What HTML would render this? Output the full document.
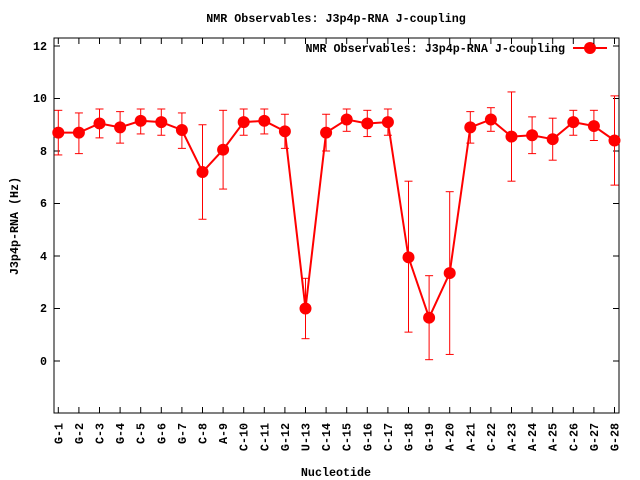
<!DOCTYPE html><html><head><style>body{margin:0;background:#fff}svg{display:block}text{font-family:"Liberation Mono",monospace;font-weight:bold;font-size:11.7px;fill:#000}</style></head><body>
<svg id="s" width="640" height="480" xmlns="http://www.w3.org/2000/svg">
<rect x="54" y="38" width="565" height="375" fill="none" stroke="#000" stroke-width="1"/>
<text x="336" y="22" text-anchor="middle">NMR Observables: J3p4p-RNA J-coupling</text>
<text x="565" y="52" text-anchor="end">NMR Observables: J3p4p-RNA J-coupling</text>
<line x1="573" y1="48" x2="607" y2="48" stroke="#f00" stroke-width="2"/><circle cx="590" cy="48" r="6" fill="#f00"/>
<g text-anchor="end">
<text x="47" y="50">12</text><text x="47" y="102">10</text><text x="47" y="155">8</text><text x="47" y="207">6</text><text x="47" y="260">4</text><text x="47" y="312">2</text><text x="47" y="365">0</text>
</g>
<text transform="translate(18,226) rotate(-90)" text-anchor="middle">J3p4p-RNA (Hz)</text>
<text x="336" y="476" text-anchor="middle">Nucleotide</text>
<g id="xl" text-anchor="end">
<text transform="translate(62.3,423) rotate(-90)">G-1</text>
<text transform="translate(82.9,423) rotate(-90)">G-2</text>
<text transform="translate(103.5,423) rotate(-90)">C-3</text>
<text transform="translate(124.1,423) rotate(-90)">G-4</text>
<text transform="translate(144.7,423) rotate(-90)">C-5</text>
<text transform="translate(165.3,423) rotate(-90)">G-6</text>
<text transform="translate(185.9,423) rotate(-90)">G-7</text>
<text transform="translate(206.5,423) rotate(-90)">C-8</text>
<text transform="translate(227.1,423) rotate(-90)">A-9</text>
<text transform="translate(247.7,423) rotate(-90)">C-10</text>
<text transform="translate(268.3,423) rotate(-90)">C-11</text>
<text transform="translate(288.9,423) rotate(-90)">G-12</text>
<text transform="translate(309.5,423) rotate(-90)">U-13</text>
<text transform="translate(330.1,423) rotate(-90)">C-14</text>
<text transform="translate(350.7,423) rotate(-90)">C-15</text>
<text transform="translate(371.3,423) rotate(-90)">G-16</text>
<text transform="translate(391.9,423) rotate(-90)">C-17</text>
<text transform="translate(412.5,423) rotate(-90)">G-18</text>
<text transform="translate(433.1,423) rotate(-90)">G-19</text>
<text transform="translate(453.7,423) rotate(-90)">A-20</text>
<text transform="translate(474.3,423) rotate(-90)">A-21</text>
<text transform="translate(494.9,423) rotate(-90)">C-22</text>
<text transform="translate(515.5,423) rotate(-90)">A-23</text>
<text transform="translate(536.1,423) rotate(-90)">A-24</text>
<text transform="translate(556.7,423) rotate(-90)">A-25</text>
<text transform="translate(577.3,423) rotate(-90)">C-26</text>
<text transform="translate(597.9,423) rotate(-90)">G-27</text>
<text transform="translate(618.5,423) rotate(-90)">G-28</text>
</g>
<g id="g"></g>
</svg>
<script>
var d=[[8.7,7.85,9.55],[8.7,7.9,9.45],[9.05,8.5,9.6],[8.9,8.3,9.5],[9.15,8.65,9.6],[9.1,8.6,9.6],[8.8,8.1,9.45],[7.2,5.4,9.0],[8.05,6.55,9.55],[9.1,8.6,9.6],[9.15,8.65,9.6],[8.75,8.1,9.4],[2.0,0.85,3.15],[8.7,8.0,9.4],[9.2,8.75,9.6],[9.05,8.55,9.55],[9.1,8.6,9.6],[3.95,1.1,6.85],[1.65,0.05,3.25],[3.35,0.25,6.45],[8.9,8.3,9.5],[9.2,8.75,9.65],[8.55,6.85,10.25],[8.6,7.9,9.3],[8.45,7.65,9.25],[9.1,8.6,9.55],[8.95,8.4,9.55],[8.4,6.7,10.1]];
function X(i){return 58.3+20.6*i}function Y(v){return 361-26.25*v}
var s='',p=[];
for(var v=0;v<=12;v+=2){var y=Y(v);s+='<line x1="54" y1="'+y+'" x2="60" y2="'+y+'" stroke="#000"/><line x1="613" y1="'+y+'" x2="619" y2="'+y+'" stroke="#000"/>';}
for(var i=0;i<28;i++){var x=X(i);s+='<line x1="'+x+'" y1="413" x2="'+x+'" y2="407" stroke="#000"/><line x1="'+x+'" y1="38" x2="'+x+'" y2="44" stroke="#000"/>';}
for(var i=0;i<28;i++){var x=X(i),a=Y(d[i][1]),b=Y(d[i][2]);p.push(x+','+Y(d[i][0]));
s+='<line x1="'+x+'" y1="'+a+'" x2="'+x+'" y2="'+b+'" stroke="#f00"/><line x1="'+(x-4)+'" y1="'+a+'" x2="'+(x+4)+'" y2="'+a+'" stroke="#f00"/><line x1="'+(x-4)+'" y1="'+b+'" x2="'+(x+4)+'" y2="'+b+'" stroke="#f00"/>';}
s+='<polyline points="'+p.join(' ')+'" fill="none" stroke="#f00" stroke-width="2"/>';
for(var i=0;i<28;i++)s+='<circle cx="'+X(i)+'" cy="'+Y(d[i][0])+'" r="6" fill="#f00"/>';
document.getElementById('g').innerHTML=s;
</script>
</body></html>
